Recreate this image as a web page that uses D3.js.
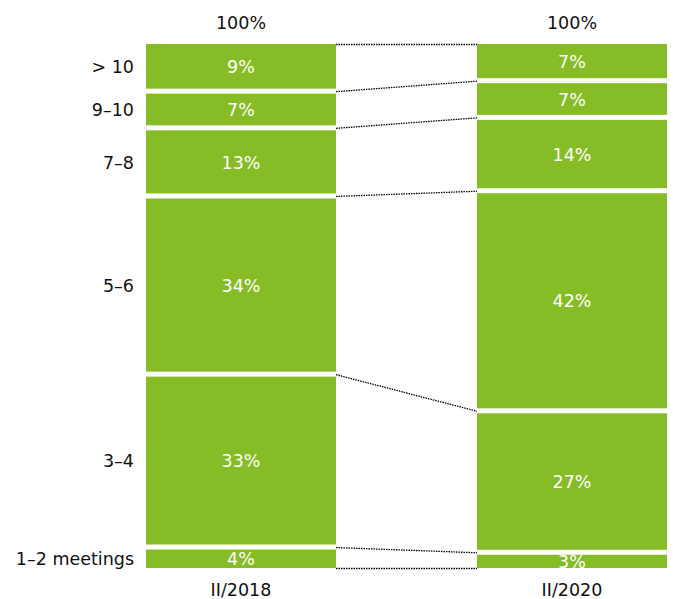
<!DOCTYPE html>
<html>
<head>
<meta charset="utf-8">
<script src="https://cdn.jsdelivr.net/npm/d3@7"></script>
<style>
  html, body { margin: 0; padding: 0; background: #fff; }
  svg { display: block; font-family: "DejaVu Sans", Verdana, sans-serif; }
</style>
</head>
<body>
<svg id="chart" width="673" height="599"></svg>
<script>
// Number of meetings, listed top to bottom of each stack
const categories = ["> 10", "9–10", "7–8", "5–6", "3–4", "1–2 meetings"];
const periods = ["II/2018", "II/2020"];
const values2018 = [9, 7, 13, 34, 33, 4];
const values2020 = [7, 7, 14, 42, 27, 3];
const totals = ["100%", "100%"];

const seriesByPeriod = [values2018, values2020];

const svg = d3.select("#chart");
const green = "#86bc25";
const gap = 5;
const fontSize = 17.5;

// two 190px-wide stacks with 141px between them
const barW = 190;
const barX = d3.scaleOrdinal().domain(periods).range([146, 477]);
const y = d3.scaleLinear().domain([0, 100]).range([44, 568]);

// cumulative stack positions (top = 0)
const stacks = seriesByPeriod.map(vals => {
  let acc = 0;
  return vals.map((v, i) => {
    const s = { cat: categories[i], v, y0: acc, y1: acc + v, first: i === 0, last: i === vals.length - 1 };
    acc += v;
    return s;
  });
});

function segTop(s) { return y(s.y0) + (s.first ? 0 : gap / 2); }
function segBot(s) { return y(s.y1) - (s.last ? 0 : gap / 2); }

// dotted connectors between matching boundaries of both stacks
const boundaries = d3.range(categories.length + 1).map(i => {
  const a = i === 0 ? 0 : stacks[0][i - 1].y1;
  const b = i === 0 ? 0 : stacks[1][i - 1].y1;
  return { a, b };
});
svg.append("g").selectAll("line").data(boundaries).join("line")
  .attr("x1", barX(periods[0]) + barW)
  .attr("x2", barX(periods[1]))
  .attr("y1", d => y(d.a) + 0.5)
  .attr("y2", d => y(d.b) + 0.5)
  .attr("stroke", "#000")
  .attr("stroke-width", 1.3)
  .attr("stroke-dasharray", "1.5,1");

// stacked bars
periods.forEach((p, pi) => {
  const g = svg.append("g");
  g.selectAll("rect").data(stacks[pi]).join("rect")
    .attr("x", barX(p))
    .attr("width", barW)
    .attr("y", d => segTop(d))
    .attr("height", d => segBot(d) - segTop(d))
    .attr("fill", green);
  g.selectAll("text").data(stacks[pi]).join("text")
    .attr("x", barX(p) + barW / 2)
    .attr("y", d => (segTop(d) + segBot(d)) / 2)
    .attr("dy", "0.38em")
    .attr("text-anchor", "middle")
    .attr("fill", "#fff")
    .attr("font-size", fontSize)
    .text(d => d.v + "%");
  // total above
  svg.append("text")
    .attr("x", barX(p) + barW / 2)
    .attr("y", 29)
    .attr("text-anchor", "middle")
    .attr("fill", "#111")
    .attr("font-size", fontSize)
    .text(totals[pi]);
  // period label below
  svg.append("text")
    .attr("x", barX(p) + barW / 2)
    .attr("y", 596)
    .attr("text-anchor", "middle")
    .attr("fill", "#111")
    .attr("font-size", fontSize)
    .text(p);
});

// category labels beside the first stack
svg.append("g").selectAll("text").data(stacks[0]).join("text")
  .attr("x", 134)
  .attr("y", d => (segTop(d) + segBot(d)) / 2)
  .attr("dy", "0.38em")
  .attr("text-anchor", "end")
  .attr("fill", "#111")
  .attr("font-size", fontSize)
  .text(d => d.cat);
</script>
</body>
</html>
